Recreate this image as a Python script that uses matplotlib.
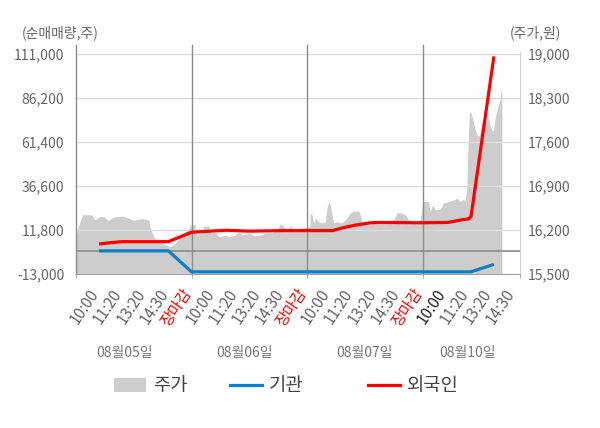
import matplotlib
matplotlib.use("Agg")
import matplotlib.pyplot as plt
from matplotlib.patches import Patch
from matplotlib.lines import Line2D
import numpy as np

plt.rcParams['font.family'] = ['Noto Sans CJK KR', 'DejaVu Sans']

# x 단위 = 거래일 하루 (0, 1, 2, 3 = 각 날짜 시작)
dates = ['08월05일', '08월06일', '08월07일', '08월10일']
date_pos = [0.42, 1.46, 2.50, 3.39]
time_labels = ['10:00', '11:20', '13:20', '14:30', '장마감'] * 3 + ['10:00', '11:20', '13:20', '14:30']
time_pos = [0.2 * (i + 1) + 0.03 for i in range(len(time_labels))]

# 주가 (원) - 날짜별, 하루 안에서의 위치
d1_t = [0.0, 0.01, 0.035, 0.06, 0.09, 0.14, 0.16, 0.21, 0.24, 0.28, 0.31, 0.35, 0.41, 0.45, 0.50,
        0.57, 0.63, 0.64, 0.66, 0.68, 0.71, 0.74, 0.79, 0.81, 0.84, 0.87, 0.90, 0.93, 0.97, 0.995]
d1_p = [16070, 16200, 16330, 16450, 16440, 16440, 16360, 16410, 16410, 16350, 16390, 16410, 16420, 16390, 16350,
        16380, 16360, 16250, 16150, 16070, 16010, 15990, 15950, 15930, 15960, 16010, 16090, 16150, 16200, 16280]
d2_t = [0.01, 0.03, 0.035, 0.05, 0.065, 0.09, 0.105, 0.15, 0.165, 0.21, 0.24, 0.30, 0.32, 0.38, 0.41,
        0.44, 0.50, 0.54, 0.60, 0.64, 0.70, 0.74, 0.77, 0.80, 0.83, 0.86, 0.875, 0.94, 0.99]
d2_p = [16280, 16280, 16220, 16090, 16150, 16150, 16260, 16260, 16150, 16160, 16090, 16120, 16090, 16120, 16170,
        16120, 16150, 16110, 16120, 16150, 16160, 16200, 16300, 16250, 16200, 16280, 16170, 16230, 16230]
d3_t = [0.006, 0.023, 0.029, 0.043, 0.058, 0.072, 0.101, 0.13, 0.159, 0.173, 0.188, 0.202, 0.216, 0.231, 0.26,
        0.289, 0.317, 0.346, 0.375, 0.404, 0.447, 0.462, 0.476, 0.519, 0.577, 0.635, 0.693, 0.75, 0.779, 0.823,
        0.851, 0.88, 0.938, 0.981]
d3_p = [16250, 16250, 16470, 16440, 16310, 16390, 16330, 16310, 16330, 16550, 16640, 16600, 16440, 16310, 16330,
        16310, 16330, 16390, 16470, 16500, 16500, 16440, 16310, 16280, 16330, 16310, 16330, 16360, 16470, 16470,
        16440, 16360, 16330, 16360]
d4_t = [0.003, 0.052, 0.066, 0.087, 0.11, 0.153, 0.182, 0.225, 0.283, 0.297, 0.326, 0.355, 0.369, 0.384, 0.392,
        0.404, 0.413, 0.427, 0.442, 0.456, 0.47, 0.485, 0.499, 0.514, 0.528, 0.543, 0.557, 0.571, 0.586, 0.6,
        0.615, 0.629, 0.644, 0.658, 0.672, 0.681, 0.687]
d4_p = [16650, 16650, 16490, 16600, 16520, 16530, 16630, 16650, 16680, 16710, 16650, 16690, 16650, 16890, 17400,
        18010, 18090, 18010, 17900, 17790, 17720, 17680, 17740, 17910, 17980, 17960, 17930, 17980, 17850, 17790,
        17770, 17980, 18090, 18190, 18270, 18410, 18410]

# 순매매량 (주)
foreign_x = [0.2, 0.3, 0.4, 0.8, 1.0, 1.3, 1.5, 1.8, 2.0, 2.22, 2.26, 2.3, 2.36, 2.42, 2.49, 2.55, 2.62,
             3.0, 3.22, 3.28, 3.34, 3.4, 3.42, 3.618]
foreign_y = [3900, 4600, 5200, 5200, 10500, 11600, 11100, 11400, 11400, 11400, 12100, 12800, 13700, 14500, 15200,
             15800, 16000, 15800, 16000, 16700, 17500, 18000, 19300, 109400]
inst_x = [0.2, 0.8, 1.0, 3.42, 3.618]
inst_y = [0, 0, -11760, -11760, -7580]

left_ticks = [-13000, 11800, 36600, 61400, 86200, 111000]
right_ticks = [15500, 16200, 16900, 17600, 18300, 19000]

price_x = np.concatenate([np.array(t) + i for i, t in enumerate([d1_t, d2_t, d3_t, d4_t])])
price_y = np.concatenate([d1_p, d2_p, d3_p, d4_p])

fig = plt.figure(figsize=(6, 4.28), dpi=100)
ax = fig.add_axes([76 / 600, 154 / 428, 444 / 600, 222 / 428])
ax2 = ax.twinx()
ax.set_zorder(ax2.get_zorder() + 1)
ax.patch.set_visible(False)
ax2.set_facecolor('#f4f4f4')

# 주가 영역
ax2.fill_between(price_x, 15500, price_y, color='#cdcdcd', lw=0)
ax2.set_ylim(15500, 19024)
ax2.set_yticks(right_ticks)
ax2.set_yticklabels([f'{v:,}' for v in right_ticks])

# 순매매량
ax.plot(inst_x, inst_y, color='#0a7fca', lw=2.3, solid_capstyle='butt', zorder=3)
ax.plot(foreign_x, foreign_y, color='#ff0000', lw=2.3, solid_capstyle='butt', zorder=4)
ax.set_ylim(-13000, 111850)
ax.set_yticks(left_ticks)
ax.set_yticklabels([f'{v:,}' for v in left_ticks])
ax.set_xlim(0, 3.844)

ax.yaxis.grid(True, color='#dcdcdc', lw=1)
ax.set_axisbelow(True)
ax.axhline(0, color='#8c8c8c', lw=1.2, zorder=2)
for d in range(4):
    ax.axvline(d, ymin=0, ymax=1.032, color='#8c8c8c', lw=1, clip_on=False, zorder=2)

for s in ['top', 'right', 'left']:
    ax.spines[s].set_visible(False)
ax.spines['bottom'].set_color('#a0a0a0')
for s in ['top', 'left', 'bottom']:
    ax2.spines[s].set_visible(False)
ax2.spines['right'].set_color('#d4d4d4')

ax.tick_params(axis='y', length=0, pad=8.5, labelsize=10, labelcolor='#666666')
ax2.tick_params(axis='y', length=0, pad=5.5, labelsize=10, labelcolor='#666666')

ax.set_xticks(time_pos)
ax.set_xticklabels(time_labels, rotation=56, ha='right', va='top', fontsize=11)
ax.set_xticks([0, 1, 2, 3, 3.844], minor=True)
ax.tick_params(axis='x', which='major', length=0, pad=8.5, labelcolor='#666666')
ax.tick_params(axis='x', which='minor', length=3, color='#a0a0a0')
for i, lbl in enumerate(ax.get_xticklabels()):
    if time_labels[i] == '장마감':
        lbl.set_color('#ff0000')
    elif i == 15:
        lbl.set_color('#222222')

for pos, d in zip(date_pos, dates):
    ax.text(pos, -0.356, d, transform=ax.get_xaxis_transform(), ha='center', va='center',
            fontsize=10, color='#777777')

fig.text(22 / 600, 1 - 33 / 428, '(순매매량,주)', ha='left', va='center', fontsize=10, color='#666666')
fig.text(510 / 600, 1 - 33 / 428, '(주가,원)', ha='left', va='center', fontsize=10, color='#666666')

# 범례
items = [
    (Patch(facecolor='#cdcdcd', edgecolor='none'), '주가', 114),
    (Line2D([], [], color='#0a7fca', lw=2.3), '기관', 230),
    (Line2D([], [], color='#ff0000', lw=2.3), '외국인', 368),
]
for h, lab, px in items:
    fig.legend([h], [lab], loc='center left', bbox_to_anchor=(px / 600, 1 - 386 / 428), frameon=False,
               fontsize=13.5, handlelength=1.7, handleheight=0.75, handletextpad=0.38, borderpad=0,
               borderaxespad=0, labelcolor='#444444')

fig.savefig('out.png', dpi=100)
